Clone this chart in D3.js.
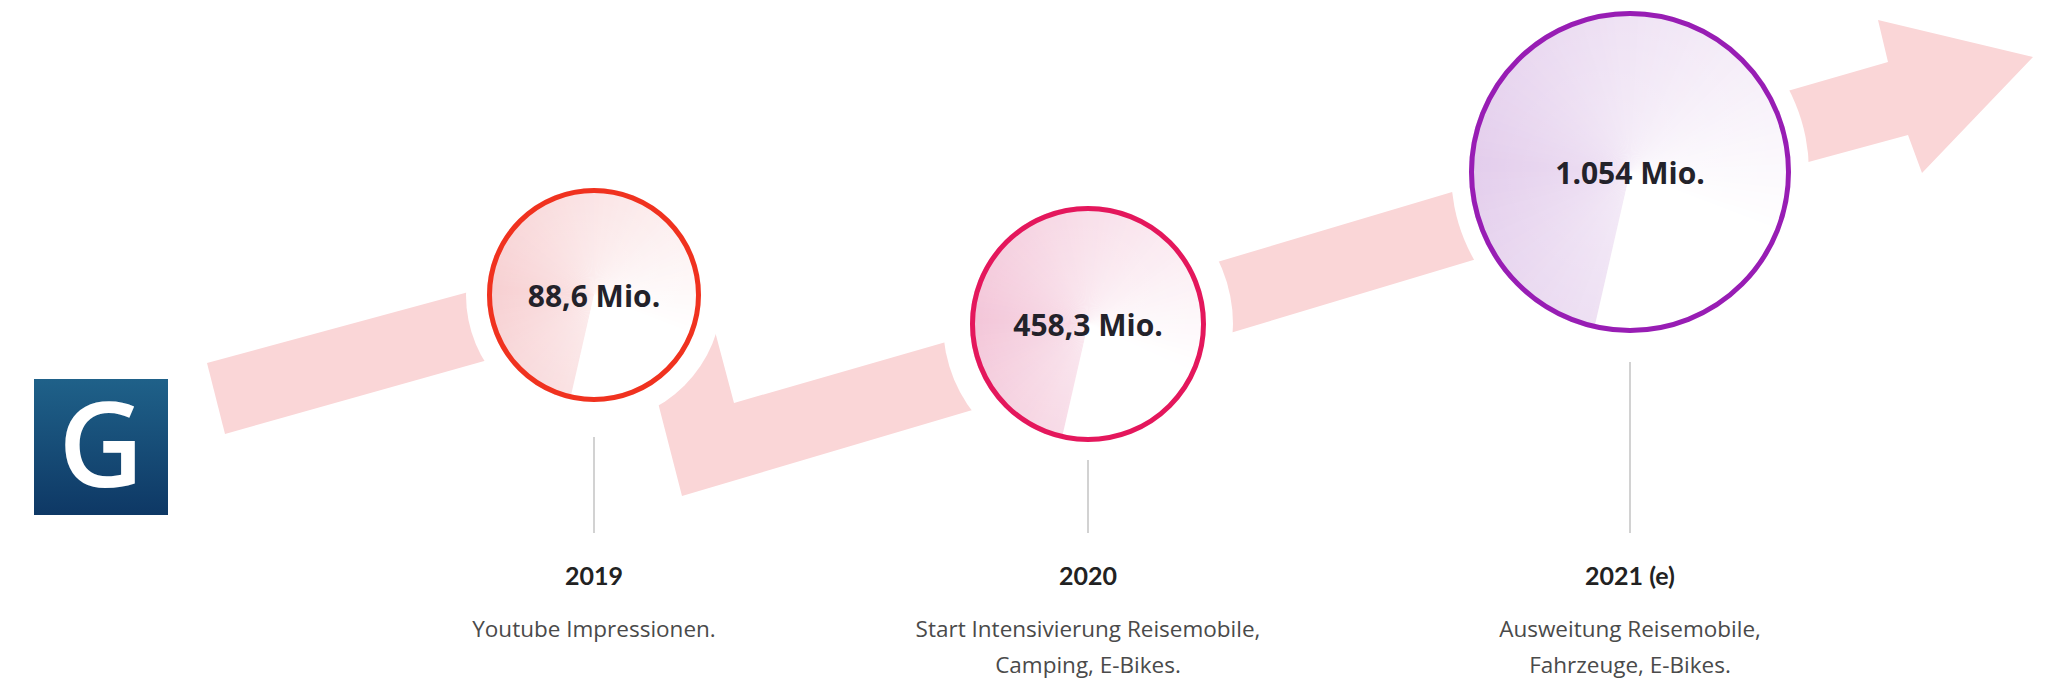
<!DOCTYPE html>
<html>
<head>
<meta charset="utf-8">
<script src="https://cdn.jsdelivr.net/npm/d3@7"></script>
<style>
  body { margin: 0; background: #fff; }
  svg { display: block; }
</style>
</head>
<body>
<div id="vis"></div>
<script>
// data
var years = ["2019", "2020", "2021 (e)"];
var values = [88.6, 458.3, 1054];   // Mio. impressions
var descriptions = [
    ["Youtube Impressionen."],
    ["Start Intensivierung Reisemobile,", "Camping, E-Bikes."],
    ["Ausweitung Reisemobile,", "Fahrzeuge, E-Bikes."]
];

// layout (infographic placement, not data)
var width = 2058, height = 686;
var cx = [594, 1088, 1630];
var cy = [295, 324, 172];
var radius = [107, 118, 161];
var haloR = [128, 145, 179];
var stemTop = [437, 460, 362];
var stemBottom = 533;
var strokeCol = ["#f0321f", "#e4175c", "#981db4"];
var tintCol = ["#f7cfd1", "#f3c5d8", "#e3cdec"];

// background ribbon pieces (the pink zig-zag arrow), partly hidden by the white halos
var ribbon = [
    [[207, 363], [590, 259], [605, 327], [225, 434]],
    [[682, 496], [629, 290], [704, 290], [734, 403], [1050, 312], [1070, 381]],
    [[1215, 263], [1120, 291], [1600, 148], [1610, 219], [1130, 363], [1230, 333]],
    [[1680, 122], [1888, 62], [1878, 20], [2033, 57], [1922, 173], [1908, 135], [1690, 194]]
];

var de = d3.formatLocale({ decimal: ",", thousands: ".", grouping: [3], currency: ["", "€"] });
function valueLabel(v) {
    return (v >= 1000 ? de.format(",.0f")(v) : de.format(",.1f")(v)) + " Mio.";
}

var svg = d3.select("#vis").append("svg")
    .attr("width", width)
    .attr("height", height);

var defs = svg.append("defs");

var logoGrad = defs.append("linearGradient")
    .attr("id", "logoGrad")
    .attr("x1", 0).attr("y1", 0).attr("x2", 0).attr("y2", 1);
logoGrad.append("stop").attr("offset", "0%").attr("stop-color", "#1f6189");
logoGrad.append("stop").attr("offset", "100%").attr("stop-color", "#0e3865");

var glow = defs.append("radialGradient").attr("id", "glow");
glow.append("stop").attr("offset", "0%").attr("stop-color", "#fff").attr("stop-opacity", 0.4);
glow.append("stop").attr("offset", "100%").attr("stop-color", "#fff").attr("stop-opacity", 0);

// ribbon
var line = d3.line().curve(d3.curveLinearClosed);
svg.append("g").selectAll("path")
    .data(ribbon)
    .join("path")
    .attr("d", line)
    .attr("fill", "#fad6d7");

// logo
svg.append("rect")
    .attr("x", 34).attr("y", 379)
    .attr("width", 134).attr("height", 136)
    .attr("fill", "url(#logoGrad)");
svg.append("text")
    .attr("x", 101).attr("y", 487)
    .attr("text-anchor", "middle")
    .attr("font-family", "'Open Sans', sans-serif")
    .attr("font-weight", 600)
    .attr("font-size", 118)
    .attr("fill", "#fff")
    .text("G");

var nodes = years.map(function(y, i) { return i; });

// white halos cutting the ribbon
svg.append("g").selectAll("circle")
    .data(nodes)
    .join("circle")
    .attr("cx", function(i) { return cx[i]; })
    .attr("cy", function(i) { return cy[i]; })
    .attr("r", function(i) { return haloR[i]; })
    .attr("fill", "#fff");

// stems
svg.append("g").selectAll("line")
    .data(nodes)
    .join("line")
    .attr("x1", function(i) { return cx[i]; })
    .attr("x2", function(i) { return cx[i]; })
    .attr("y1", function(i) { return stemTop[i]; })
    .attr("y2", stemBottom)
    .attr("stroke", "#d2d2d2")
    .attr("stroke-width", 2);

// circle fills: conic fade made of thin arc slices
var N = 120;
var start = 192 * Math.PI / 180;
var arc = d3.arc().innerRadius(0);
function strength(t) {
    if (t < 0.22) return 0.62 + 0.38 * (t / 0.22);
    return Math.max(0, 1 - (t - 0.22) / 0.56);
}
var bubbles = svg.append("g").selectAll("g")
    .data(nodes)
    .join("g")
    .attr("transform", function(i) { return "translate(" + cx[i] + "," + cy[i] + ")"; });

bubbles.each(function(i) {
    var g = d3.select(this);
    var slices = d3.range(N).map(function(k) {
        return {
            startAngle: start + k * 2 * Math.PI / N,
            endAngle: start + (k + 1.3) * 2 * Math.PI / N,
            color: d3.interpolateRgb("#ffffff", tintCol[i])(strength(k / N))
        };
    });
    g.selectAll("path")
        .data(slices)
        .join("path")
        .attr("d", function(d) {
            return arc.outerRadius(radius[i])(d);
        })
        .attr("fill", function(d) { return d.color; });
    g.append("circle")
        .attr("r", radius[i])
        .attr("fill", "url(#glow)");
    g.append("circle")
        .attr("r", radius[i] - 2.5)
        .attr("fill", "none")
        .attr("stroke", strokeCol[i])
        .attr("stroke-width", 5);
    g.append("text")
        .attr("y", 12)
        .attr("text-anchor", "middle")
        .attr("font-family", "'Open Sans', sans-serif")
        .attr("font-weight", 700)
        .attr("font-size", 30)
        .attr("fill", "#23222a")
        .text(valueLabel(values[i]));
});

// year labels
svg.append("g").selectAll("text")
    .data(nodes)
    .join("text")
    .attr("x", function(i) { return cx[i]; })
    .attr("y", 585)
    .attr("text-anchor", "middle")
    .attr("font-family", "Lato, sans-serif")
    .attr("font-weight", 700)
    .attr("font-size", 25)
    .attr("fill", "#222")
    .text(function(i) { return years[i]; });

// descriptions
svg.append("g").selectAll("text")
    .data(nodes)
    .join("text")
    .attr("text-anchor", "middle")
    .attr("font-family", "'Open Sans', sans-serif")
    .attr("font-size", 22.5)
    .attr("fill", "#4a4a4a")
    .each(function(i) {
        d3.select(this).selectAll("tspan")
            .data(descriptions[i])
            .join("tspan")
            .attr("x", cx[i])
            .attr("y", function(d, j) { return 637 + j * 36; })
            .text(function(d) { return d; });
    });
</script>
</body>
</html>
